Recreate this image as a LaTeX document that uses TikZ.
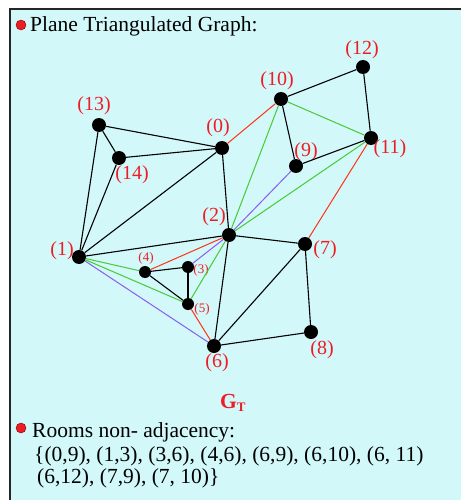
\documentclass[tikz,border=0pt]{standalone}
\usepackage{fontspec}
\setmainfont{Liberation Serif}
\usetikzlibrary{positioning}

\definecolor{panelbg}{HTML}{D3F8FA}
\definecolor{labred}{HTML}{EE1C25}
\definecolor{linered}{HTML}{FF3311}
\definecolor{linegreen}{HTML}{44CC33}
\definecolor{linepurple}{HTML}{8A5CF0}

\begin{document}
\begin{tikzpicture}[
            x=1pt, y=-1pt,
            vtx/.style={circle, fill=black, inner sep=0pt, minimum size=14pt},
            svtx/.style={vtx, minimum size=12pt},
            lbl/.style={text=labred, font=\fontsize{20}{22}\selectfont, inner sep=0pt},
            slbl/.style={lbl, font=\fontsize{13}{15}\selectfont},
            edge/.style={line width=1.1pt, black},
            redge/.style={line width=1pt, linered},
            gedge/.style={line width=1pt, linegreen},
            pedge/.style={line width=1pt, linepurple},
            bullet/.style={circle, fill=labred, draw=red!50!black, thin, inner sep=0pt, minimum size=10pt},
            txt/.style={font=\fontsize{21.5}{24}\selectfont, anchor=base west, inner sep=0pt}
        ]
            % --- panel ---
            \useasboundingbox (0,0) rectangle (461,500);
            \fill[white] (0,0) rectangle (461,500);
            \fill[panelbg] (10,9) rectangle (461,500);
            \draw[line width=2pt, black!85] (10,500) -- (10,9) -- (461,9);

            % --- headings ---
            \node[bullet] (b1) at (21,25) {};
            \node[txt] (title) at (30,32) {Plane Triangulated Graph:};

            % --- vertices ---
            \node[vtx] (v0) at (222,148) {};
            \node[vtx] (v1) at (79,257) {};
            \node[vtx] (v2) at (229,235) {};
            \node[svtx] (v3) at (188,267) {};
            \node[svtx] (v4) at (145,272) {};
            \node[svtx] (v5) at (188,304) {};
            \node[vtx] (v6) at (214,346) {};
            \node[vtx] (v7) at (305,244) {};
            \node[vtx] (v8) at (311,332) {};
            \node[vtx] (v9) at (296,166) {};
            \node[vtx] (v10) at (281,99) {};
            \node[vtx] (v11) at (371,138) {};
            \node[vtx] (v12) at (363,67) {};
            \node[vtx] (v13) at (99,125) {};
            \node[vtx] (v14) at (119,158) {};

            % --- vertex labels ---
            \node[lbl] (l0) at (218,128) {(0)};
            \node[lbl] (l1) at (62,251) {(1)};
            \node[lbl] (l2) at (214,217) {(2)};
            \node[slbl] (l3) at (201,270) {(3)};
            \node[slbl] (l4) at (146,258) {(4)};
            \node[slbl] (l5) at (202,309) {(5)};
            \node[lbl] (l6) at (217,363) {(6)};
            \node[lbl] (l7) at (325,250) {(7)};
            \node[lbl] (l8) at (322,350) {(8)};
            \node[lbl] (l9) at (306,152) {(9)};
            \node[lbl] (l10) at (277,81) {(10)};
            \node[lbl] (l11) at (390,149) {(11)};
            \node[lbl] (l12) at (362,50) {(12)};
            \node[lbl] (l13) at (94,106) {(13)};
            \node[lbl] (l14) at (132,175) {(14)};

            % --- black edges ---
            \foreach \a/\b in {13/0, 13/14, 13/1, 14/0, 14/1, 0/1, 0/2, 10/12, 12/11, 10/9,
                               9/11, 1/2, 2/7, 2/6, 4/3, 3/5, 4/5, 7/6, 7/8, 6/8}
              \draw[edge] (v\a) -- (v\b);

            % --- coloured edges ---
            \foreach \a/\b in {0/10, 11/7, 4/2, 5/6}
              \draw[redge] (v\a) -- (v\b);
            \foreach \a/\b in {10/2, 10/11, 2/11, 1/4, 1/5, 2/5}
              \draw[gedge] (v\a) -- (v\b);
            \foreach \a/\b in {9/2, 2/3, 1/6}
              \draw[pedge] (v\a) -- (v\b);

            % --- graph name ---
            \node[txt, text=labred] (gname) at (220,408)
              {\bfseries G\raisebox{-0.35ex}{\fontsize{13}{13}\selectfont T}};

            % --- non adjacency list ---
            \node[bullet] (b2) at (21,428) {};
            \node[txt] (rooms) at (32,437) {Rooms non- adjacency:};
            \node[txt] (pairs1) at (34,461) {\{(0,9), (1,3), (3,6), (4,6), (6,9), (6,10), (6, 11)};
            \node[txt] (pairs2) at (37,483) {(6,12), (7,9), (7, 10)\}};

        \end{tikzpicture}
\end{document}
